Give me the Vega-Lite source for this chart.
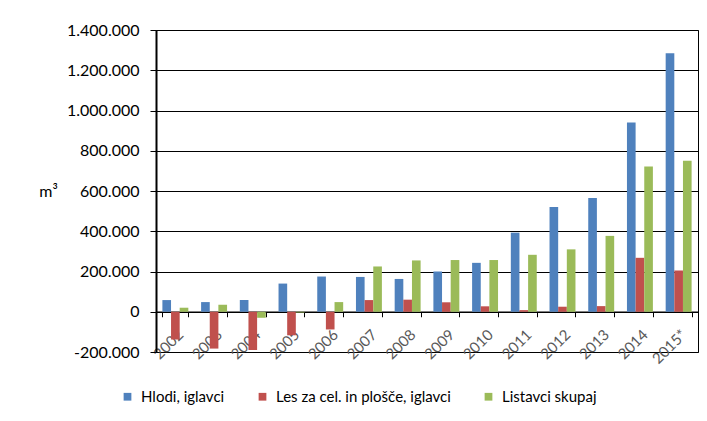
{
  "$schema": "https://vega.github.io/schema/vega-lite/v6.json",
  "width": 542,
  "height": 322,
  "autosize": {"type": "none"},
  "padding": {"left": 156, "top": 30, "right": 9, "bottom": 69},
  "background": "white",
  "data": {
    "values": [
      {"year": "2002", "series": "Hlodi, iglavci", "value": 58000},
      {"year": "2002", "series": "Les za cel. in plošče, iglavci", "value": -138000},
      {"year": "2002", "series": "Listavci skupaj", "value": 20000},
      {"year": "2003", "series": "Hlodi, iglavci", "value": 48000},
      {"year": "2003", "series": "Les za cel. in plošče, iglavci", "value": -183000},
      {"year": "2003", "series": "Listavci skupaj", "value": 35000},
      {"year": "2004", "series": "Hlodi, iglavci", "value": 58000},
      {"year": "2004", "series": "Les za cel. in plošče, iglavci", "value": -190000},
      {"year": "2004", "series": "Listavci skupaj", "value": -30000},
      {"year": "2005", "series": "Hlodi, iglavci", "value": 140000},
      {"year": "2005", "series": "Les za cel. in plošče, iglavci", "value": -117000},
      {"year": "2005", "series": "Listavci skupaj", "value": -4000},
      {"year": "2006", "series": "Hlodi, iglavci", "value": 175000},
      {"year": "2006", "series": "Les za cel. in plošče, iglavci", "value": -88000},
      {"year": "2006", "series": "Listavci skupaj", "value": 48000},
      {"year": "2007", "series": "Hlodi, iglavci", "value": 173000},
      {"year": "2007", "series": "Les za cel. in plošče, iglavci", "value": 58000},
      {"year": "2007", "series": "Listavci skupaj", "value": 225000},
      {"year": "2008", "series": "Hlodi, iglavci", "value": 163000},
      {"year": "2008", "series": "Les za cel. in plošče, iglavci", "value": 60000},
      {"year": "2008", "series": "Listavci skupaj", "value": 255000},
      {"year": "2009", "series": "Hlodi, iglavci", "value": 200000},
      {"year": "2009", "series": "Les za cel. in plošče, iglavci", "value": 47000},
      {"year": "2009", "series": "Listavci skupaj", "value": 257000},
      {"year": "2010", "series": "Hlodi, iglavci", "value": 243000},
      {"year": "2010", "series": "Les za cel. in plošče, iglavci", "value": 27000},
      {"year": "2010", "series": "Listavci skupaj", "value": 257000},
      {"year": "2011", "series": "Hlodi, iglavci", "value": 393000},
      {"year": "2011", "series": "Les za cel. in plošče, iglavci", "value": 8000},
      {"year": "2011", "series": "Listavci skupaj", "value": 283000},
      {"year": "2012", "series": "Hlodi, iglavci", "value": 520000},
      {"year": "2012", "series": "Les za cel. in plošče, iglavci", "value": 25000},
      {"year": "2012", "series": "Listavci skupaj", "value": 310000},
      {"year": "2013", "series": "Hlodi, iglavci", "value": 565000},
      {"year": "2013", "series": "Les za cel. in plošče, iglavci", "value": 28000},
      {"year": "2013", "series": "Listavci skupaj", "value": 377000},
      {"year": "2014", "series": "Hlodi, iglavci", "value": 940000},
      {"year": "2014", "series": "Les za cel. in plošče, iglavci", "value": 268000},
      {"year": "2014", "series": "Listavci skupaj", "value": 722000},
      {"year": "2015*", "series": "Hlodi, iglavci", "value": 1284000},
      {"year": "2015*", "series": "Les za cel. in plošče, iglavci", "value": 205000},
      {"year": "2015*", "series": "Listavci skupaj", "value": 750000}
    ]
  },
  "mark": {"type": "bar"},
  "encoding": {
    "x": {
      "field": "year",
      "type": "nominal",
      "sort": null,
      "scale": {"paddingInner": 0.33, "paddingOuter": 0.165},
      "axis": {
        "title": null,
        "labelAngle": -45,
        "labelColor": "#595959",
        "labelFont": "Lato",
        "labelFontSize": 15,
        "offset": -40.25,
        "domainColor": "#000000",
        "domainWidth": 1.5,
        "tickColor": "#000000",
        "tickSize": 5,
        "tickBand": "extent",
        "labelPadding": 10,
        "zindex": 0
      }
    },
    "xOffset": {
      "field": "series",
      "type": "nominal",
      "sort": ["Hlodi, iglavci", "Les za cel. in plošče, iglavci", "Listavci skupaj"]
    },
    "y": {
      "field": "value",
      "type": "quantitative",
      "scale": {"domain": [-200000, 1400000], "nice": false, "zero": false},
      "axis": {
        "title": "m³",
        "titleAngle": 0,
        "titleX": -108,
        "titleY": 161,
        "titleAlign": "center",
        "titleBaseline": "middle",
        "titleFont": "Lato",
        "titleFontSize": 16,
        "titleFontWeight": "normal",
        "titleColor": "#000000",
        "values": [-200000, 0, 200000, 400000, 600000, 800000, 1000000, 1200000, 1400000],
        "format": ",d",
        "labelFont": "Lato",
        "labelFontSize": 16,
        "labelColor": "#000000",
        "labelPadding": 11,
        "tickSize": 6,
        "tickColor": "#000000",
        "domainColor": "#000000",
        "domainWidth": 2,
        "grid": true,
        "gridColor": "#000000",
        "gridWidth": 1
      }
    },
    "color": {
      "field": "series",
      "type": "nominal",
      "sort": ["Hlodi, iglavci", "Les za cel. in plošče, iglavci", "Listavci skupaj"],
      "scale": {
        "domain": ["Hlodi, iglavci", "Les za cel. in plošče, iglavci", "Listavci skupaj"],
        "range": ["#4F81BD", "#C0504D", "#9BBB59"]
      },
      "legend": {
        "title": null,
        "orient": "none",
        "direction": "horizontal",
        "legendX": -36,
        "legendY": 359,
        "symbolType": "square",
        "symbolSize": 60,
        "symbolStrokeWidth": 0,
        "labelFont": "Lato",
        "labelFontSize": 15,
        "labelColor": "#000000",
        "labelOffset": 6,
        "labelLimit": 400,
        "columnPadding": 30
      }
    }
  },
  "config": {
    "locale": {
      "number": {"decimal": ",", "thousands": ".", "grouping": [3], "currency": ["", " €"], "minus": "-"}
    },
    "view": {"stroke": "#000000", "strokeWidth": 1}
  }
}
